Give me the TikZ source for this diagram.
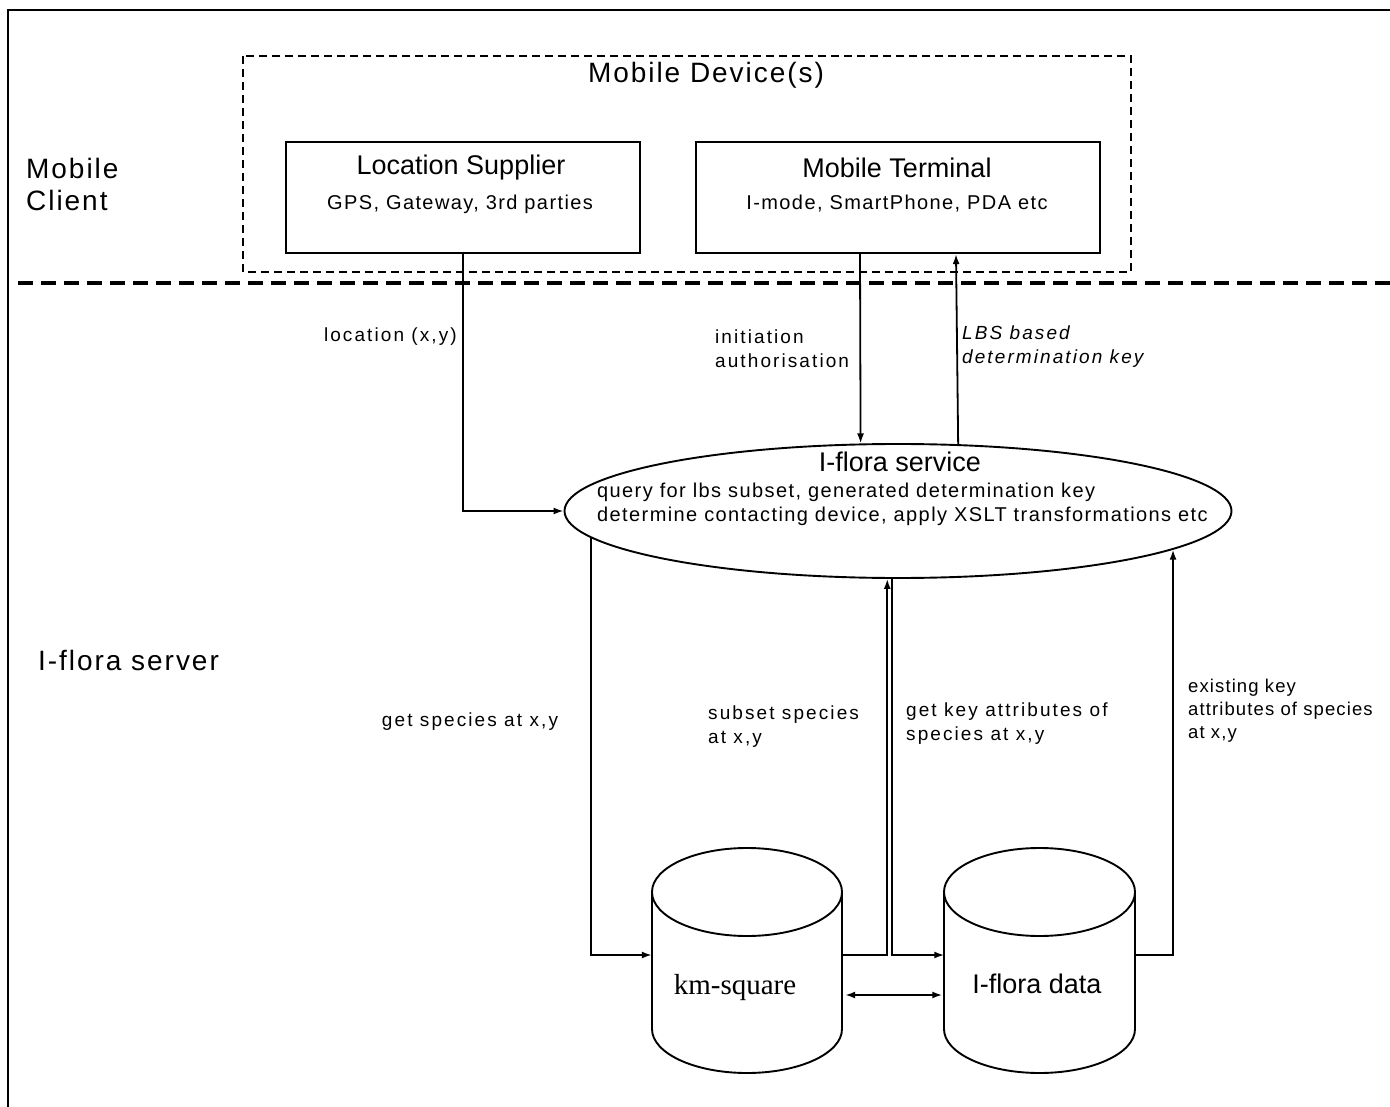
\documentclass[tikz,border=0pt]{standalone}
\usepackage{fontspec}
\setmainfont{Liberation Sans}
\newfontfamily\timesfont{Liberation Serif}
\newfontfamily\wideS[LetterSpace=7]{Liberation Sans}
\newfontfamily\wideL[LetterSpace=11]{Liberation Sans}
\newfontfamily\wideM[LetterSpace=6]{Liberation Sans}
\usetikzlibrary{shapes.geometric,arrows.meta}
\tikzset{
  conn/.style={line width=1.8pt},
  arr/.style={conn,-{Latex[length=10pt,width=7pt]}},
  dbl/.style={conn,{Latex[length=10pt,width=7pt]}-{Latex[length=10pt,width=7pt]}},
  boxnode/.style={draw,line width=2.2pt,minimum width=354pt,minimum height=111pt,inner sep=0pt},
  body/.style={minimum width=190pt,minimum height=126pt,inner sep=0pt},
  cyl/.style={line width=1.9pt},
  title/.style={font=\fontsize{27}{30}\selectfont,inner sep=0pt},
  sub/.style={font=\wideS\fontsize{20}{23}\selectfont,inner sep=0pt},
  lbl/.style={font=\wideL\fontsize{19}{23.5}\selectfont,inner sep=0pt,align=left},
  side/.style={font=\wideS\fontsize{28}{32}\selectfont,inner sep=0pt,align=left},
}
\begin{document}
\begin{tikzpicture}[x=1pt,y=-1pt]
\useasboundingbox (0,0) rectangle (1390,1107);
% outer frame
\draw[line width=2pt] (8,1107) -- (8,10) -- (1390,10);
% mobile device dashed box
\draw[line width=1.5pt,dash pattern=on 8pt off 5pt] (243,56) rectangle (1131,272);
\node[side] (md) at (706,75) {Mobile Device(s)};
% separator
\draw[line width=4.5pt,dash pattern=on 15pt off 8pt] (18,283) -- (1390,283);
% boxes
\node[boxnode] (ls) at (463,197.5) {};
\node[title] (lst) at (461,168) {Location Supplier};
\node[sub] (lss) at (460,204) {GPS, Gateway, 3rd parties};
\node[boxnode,minimum width=404pt] (mt) at (898,197.5) {};
\node[title] (mtt) at (897,168) {Mobile Terminal};
\node[sub] (mts) at (897,204) {I-mode, SmartPhone, PDA etc};
% side labels
\node[side,anchor=west] (mc) at (26,184) {Mobile\\Client};
\node[side,anchor=west] (ifs) at (38,660) {I-flora server};
% service ellipse
\node[ellipse,draw,line width=1.9pt,minimum width=667pt,minimum height=134pt,inner sep=0pt] (svc) at (898,511) {};
\node[title] (svct) at (900,462) {I-flora service};
\node[sub,anchor=west] (svc1) at (597,492) {query for lbs subset, generated determination key};
\node[sub,anchor=west] (svc2) at (597,516) {determine contacting device, apply XSLT transformations etc};
% cylinders
\node[body] (km) at (747,955) {};
\node[body] (fd) at (1039.5,955) {};
\draw[cyl] (747,892) ellipse (95pt and 44pt);
\draw[cyl] (652,892) -- (652,1029) arc[start angle=180,end angle=360,x radius=95pt,y radius=44pt] -- (842,892);
\draw[cyl] (1039.5,892) ellipse (95.5pt and 44pt);
\draw[cyl] (944,892) -- (944,1029) arc[start angle=180,end angle=360,x radius=95.5pt,y radius=44pt] -- (1135,892);
\node[font=\timesfont\fontsize{29}{30}\selectfont,inner sep=0pt] (kmt) at (735,988) {km-square};
\node[font=\fontsize{27}{30}\selectfont,inner sep=0pt] (fdt) at (1037,984) {I-flora data};
% connectors
\draw[arr] (ls.south) |- (svc.west);
\draw[arr] ([xshift=-38pt]mt.south) -- (svc.119.7);
\draw[arr] (svc.48.7) -- ([xshift=58pt]mt.south);
\draw[arr] (svc.185.4) |- (km.west);
\draw[arr] (km.east) -| (svc.261.5);
\draw[arr] (svc.265.7) |- (fd.west);
\draw[arr] (fd.east) -| (svc.352.5);
\draw[dbl] ([yshift=-40pt,xshift=3pt]km.east) -- ([yshift=-40pt,xshift=-2pt]fd.west);
% labels
\node[lbl,anchor=east] (l1) at (457,337) {location (x,y)};
\node[lbl,anchor=north west] (l2) at (715,330) {initiation\\authorisation};
\node[lbl,anchor=north west,font=\wideL\fontsize{19}{23.5}\selectfont\itshape] (l3) at (962,326) {LBS based\\ determination key};
\node[lbl] (l4) at (470,722) {get species at x,y};
\node[lbl,anchor=north west] (l5) at (708,706) {subset species\\at x,y};
\node[lbl,anchor=north west] (l6) at (906,703) {get key attributes of\\ species at x,y};
\node[lbl,anchor=north west,font=\wideM\fontsize{18.5}{23}\selectfont] (l7) at (1188,679) {existing key\\attributes of species\\at x,y};
\end{tikzpicture}
\end{document}
